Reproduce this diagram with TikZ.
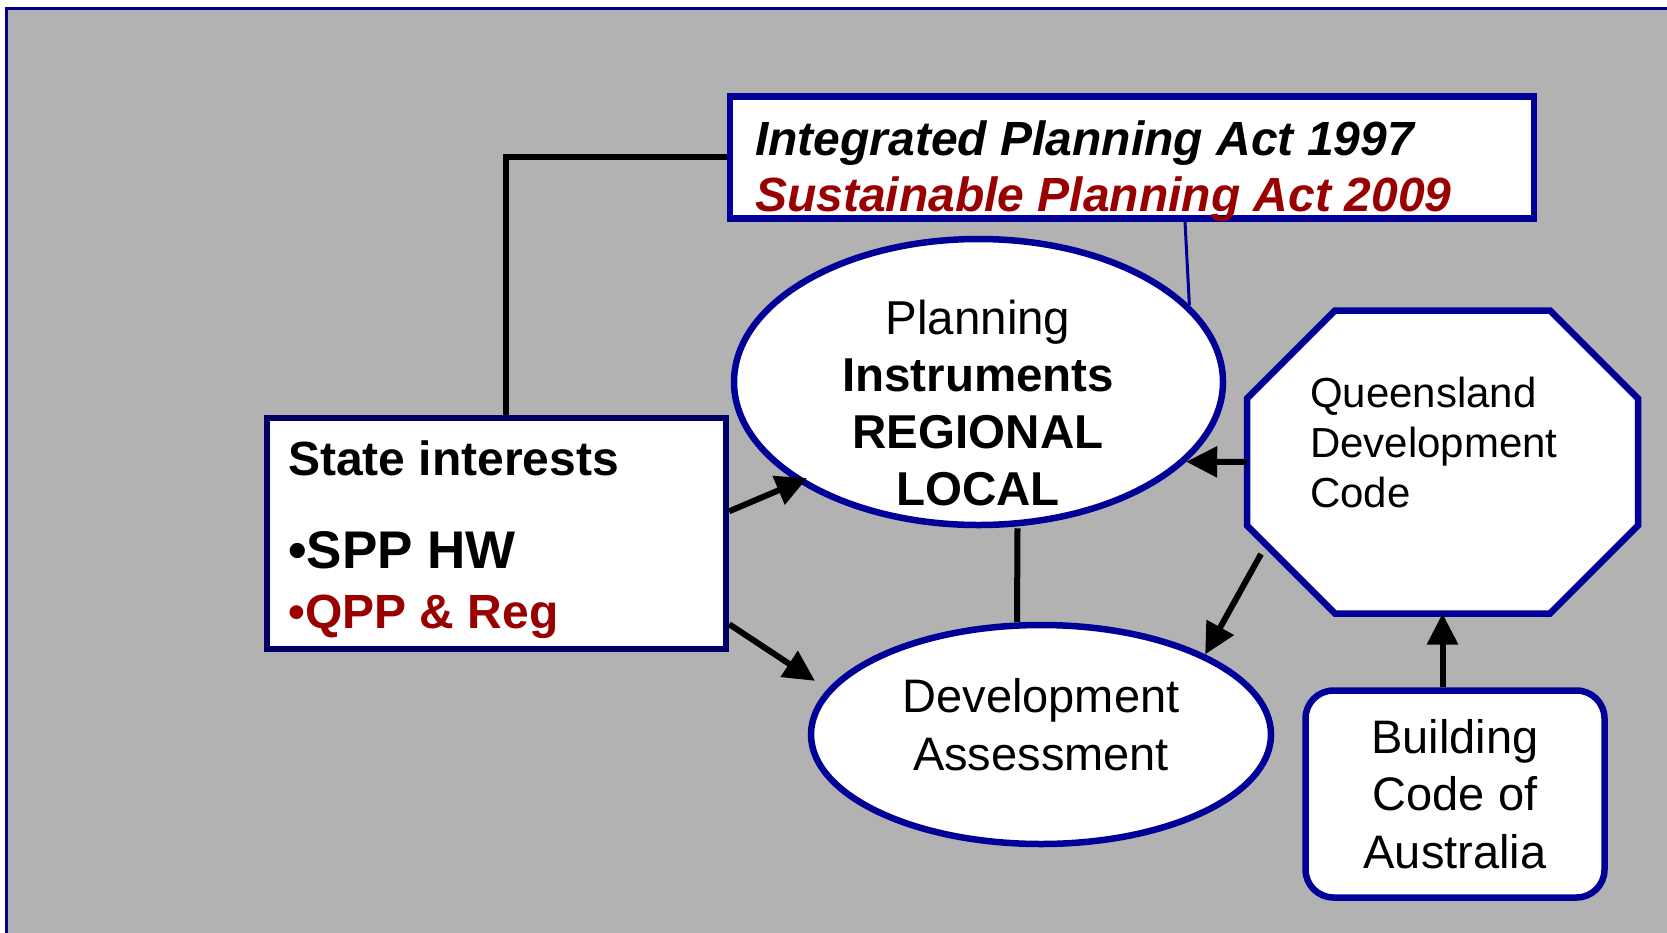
\documentclass[tikz,border=0pt]{standalone}
\usepackage{fontspec}
\setmainfont{Liberation Sans}
\usetikzlibrary{arrows.meta,calc,shapes.geometric}
\definecolor{panelgray}{RGB}{178,178,178}
\definecolor{framenavy}{RGB}{0,0,140}
\definecolor{boxnavy}{RGB}{0,0,153}
\definecolor{statenavy}{RGB}{0,0,102}
\definecolor{actred}{RGB}{153,0,0}
\newcommand{\fs}[2]{\fontsize{#1}{#2}\selectfont}

\begin{document}
\begin{tikzpicture}[x=1pt, y=-1pt,
    shapebox/.style={draw=boxnavy, line width=6.5pt, fill=white, inner sep=0pt},
    plaintext/.style={inner sep=0pt},
    link/.style={line width=6pt},
    arr/.style={line width=6pt, -{Triangle[length=31pt,width=30pt]}}]
  \useasboundingbox (0,0) rectangle (1667,932);
  \clip (0,0) rectangle (1667,932);
  % Panel
  \draw[draw=framenavy, line width=3pt, fill=panelgray] (6,8) rectangle (1700,960);

  % Acts
  \node[shapebox, minimum width=804pt, minimum height=122pt] (acts) at (1132,157.25) {};
  \node[plaintext, anchor=north west, align=left, font=\fs{48}{56}\bfseries\itshape] (actstxt) at (755,121)
    {Integrated Planning Act 1997\\\color{actred}Sustainable Planning Act 2009};

  % State interests
  \node[shapebox, draw=statenavy, minimum width=459pt, minimum height=231pt] (state) at (496.5,533.25) {};
  \node[plaintext, anchor=base west, font=\fs{48}{56}\bfseries] (sttitle) at (288,475) {State interests};
  \node[plaintext, anchor=base west, font=\fs{53}{60}\bfseries] (spp) at (288,568) {•SPP HW};
  \node[plaintext, anchor=base west, font=\fs{48}{56}\bfseries, text=actred] (qpp) at (288,628) {•QPP \& Reg};

  % Planning instruments
  \node[shapebox, ellipse, minimum width=489pt, minimum height=286pt] (pi) at (978.5,382) {};
  \node[plaintext, anchor=north, align=center, font=\fs{47.5}{57}] (pitxt) at (978,300)
    {Planning\\\textbf{Instruments}\\\textbf{REGIONAL}\\\textbf{LOCAL}};

  % Development assessment
  \node[shapebox, ellipse, minimum width=460pt, minimum height=219pt] (da) at (1041,734.5) {};
  \node[plaintext, anchor=north, align=center, font=\fs{47}{58}] (datxt) at (1041,678)
    {Development\\Assessment};

  % Queensland Development Code
  \node[minimum width=391pt, minimum height=303pt, inner sep=0pt, outer sep=0pt] (qdc) at (1442.5,462) {};
  \draw[shapebox] ([xshift=88pt]qdc.north west) -- ([xshift=-88pt]qdc.north east)
    -- ([yshift=-88pt]qdc.north east) -- ([yshift=88pt]qdc.south east)
    -- ([xshift=-88pt]qdc.south east) -- ([xshift=88pt]qdc.south west)
    -- ([yshift=88pt]qdc.south west) -- ([yshift=-88pt]qdc.north west) -- cycle;
  \node[plaintext, anchor=north west, align=left, font=\fs{42}{50}] (qdctxt) at (1310,377)
    {Queensland\\Development\\Code};

  % Building Code of Australia
  \node[shapebox, rounded corners=28pt, minimum width=299pt, minimum height=207pt,
    align=center, font=\fs{47}{57.5}] (bca) at (1455,794) {Building\\Code of\\Australia};

  % Links
  \draw[link] (acts.west) -| ([xshift=9pt]state.north);
  \draw[boxnavy, line width=3pt] ([xshift=53pt]acts.south) -- (pi.20);
  \draw[link] ([xshift=39pt]pi.south) -- ([xshift=-24pt]da.north);

  % Arrows
  \draw[arr, shorten >=-10pt] ([yshift=22pt]state.east) -- (pi.209);
  \draw[arr, shorten >=15pt] ([yshift=-91pt]state.east) -- (da.168);
  \draw[arr] (qdc.west) -- (pi.-21);
  \draw[arr] ($(qdc.west)+(14,92)$) -- (da.26);
  \draw[arr] (bca.north -| qdc.south) -- (qdc.south);
\end{tikzpicture}
\end{document}
